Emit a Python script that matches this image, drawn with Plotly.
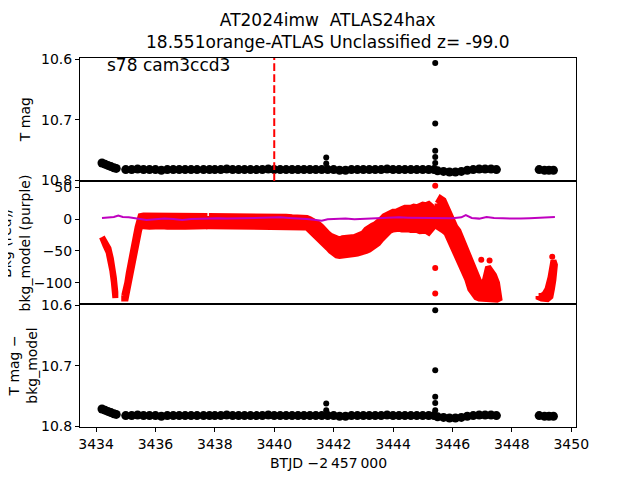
import numpy as np
import plotly.graph_objects as go
from plotly.subplots import make_subplots

# --- T mag band (top panel, also reused for T mag - bkg_model) ---
mag_t = [3434.20, 3434.30, 3434.40, 3434.50, 3434.60, 3434.68,
         3435.00, 3435.20, 3435.40, 3435.60, 3435.80, 3436.00, 3436.20, 3436.40,
         3436.60, 3436.80, 3437.00, 3437.20, 3437.40, 3437.62,
         3437.82, 3438.00, 3438.20, 3438.40, 3438.60, 3438.80, 3439.00, 3439.20,
         3439.40, 3439.60, 3439.80, 3440.00, 3440.20, 3440.40, 3440.60, 3440.80,
         3441.00, 3441.20, 3441.40, 3441.60, 3441.80, 3442.00, 3442.20, 3442.40,
         3442.60, 3442.80, 3443.00, 3443.20, 3443.40, 3443.60, 3443.80, 3444.00,
         3444.20, 3444.40, 3444.60, 3444.80, 3445.00, 3445.20, 3445.38,
         3445.50, 3445.70, 3445.90, 3446.10, 3446.30, 3446.50, 3446.70, 3446.90,
         3447.10, 3447.30, 3447.48,
         3448.92, 3449.10, 3449.25, 3449.40]
mag_v = [10.771, 10.773, 10.775, 10.777, 10.779, 10.780,
         10.782, 10.782, 10.781, 10.782, 10.782, 10.782, 10.783, 10.782,
         10.782, 10.782, 10.782, 10.782, 10.782, 10.782,
         10.782, 10.782, 10.782, 10.781, 10.782, 10.782, 10.782, 10.782,
         10.782, 10.782, 10.781, 10.782, 10.782, 10.782, 10.782, 10.782,
         10.782, 10.782, 10.782, 10.782, 10.782, 10.782, 10.783, 10.783,
         10.782, 10.782, 10.782, 10.782, 10.782, 10.782, 10.781, 10.782,
         10.782, 10.782, 10.782, 10.782, 10.782, 10.782, 10.782,
         10.784, 10.785, 10.786, 10.786, 10.785, 10.783, 10.782, 10.781,
         10.781, 10.781, 10.782,
         10.782, 10.783, 10.783, 10.783]

# isolated bright points
mag_out_t = [3441.75, 3441.75, 3445.42, 3445.42, 3445.42, 3445.42, 3445.42]
mag_out_v = [10.762, 10.772, 10.606, 10.706, 10.751, 10.761, 10.771]
diff_out_v = [10.762, 10.773, 10.608, 10.707, 10.751, 10.761, 10.773]

# --- background (red), upper/lower envelope of the point cloud ---
red_t = [3434.20, 3434.32, 3434.42, 3434.50, 3434.55, 3434.60, 3434.65,
         3434.95, 3435.00, 3435.05, 3435.10, 3435.15, 3435.20, 3435.25, 3435.30,
         3435.35, 3435.40, 3435.45, 3435.50,
         3435.60, 3435.80, 3436.00, 3436.20, 3436.40, 3436.60, 3436.80, 3437.00,
         3437.20, 3437.40, 3437.65,
         3437.80, 3438.00, 3438.20, 3438.40, 3438.60, 3438.80, 3439.00, 3439.20,
         3439.40, 3439.60, 3439.80, 3440.00, 3440.20, 3440.40, 3440.60, 3440.80,
         3441.00,
         3441.10, 3441.20, 3441.30, 3441.40, 3441.50, 3441.60, 3441.70, 3441.80,
         3441.90, 3442.00, 3442.10, 3442.20, 3442.30, 3442.40, 3442.50, 3442.60,
         3442.70, 3442.80, 3442.90, 3443.00, 3443.10, 3443.20, 3443.30, 3443.40,
         3443.50, 3443.60, 3443.70, 3443.80, 3443.90, 3444.00, 3444.10,
         3444.20, 3444.30, 3444.40, 3444.50, 3444.60, 3444.70, 3444.80, 3444.90,
         3445.00, 3445.10, 3445.20, 3445.30, 3445.38,
         3445.50, 3445.60, 3445.70, 3445.80, 3445.90, 3446.00, 3446.10, 3446.20,
         3446.30, 3446.40, 3446.50, 3446.60, 3446.70, 3446.80, 3446.90, 3447.00,
         3447.10, 3447.20, 3447.30, 3447.40, 3447.50, 3447.58,
         3448.90, 3449.00, 3449.10, 3449.20, 3449.30, 3449.35, 3449.40, 3449.45]
red_hi = [-28, -37, -46, -62, -75, -92, -115,
          -120, -112, -100, -85, -70, -58, -46, -35, -24, -12, 0, 5,
          6, 6, 7, 6, 5, 6, 5, 5, 5, 5, 5,
          5, 5, 5, 5, 6, 6, 5, 4, 5, 5, 6, 4, 4, 4, 3, 3, 3,
          2, 0, -2, -4, -8, -12, -18, -22, -26, -28, -30, -32, -30, -30, -28, -30,
          -28, -26, -25, -22, -16, -12, -10, -8, -5, 0, 5, 8, 10, 12, 12,
          15, 16, 18, 17, 18, 20, 19, 21, 23, 22, 24, 20, 15,
          25, 33, 30, 20, 8, -5, -12, -18, -30, -40, -50, -62, -75, -88, -98, -105,
          -95, -75, -80, -88, -100, -118,
          -121, -121, -118, -110, -92, -72, -65, -72]
red_lo = [-32, -42, -52, -70, -82, -100, -124,
          -125, -125, -118, -105, -88, -75, -62, -50, -40, -30, -18, -10,
          -11, -12, -12, -11, -12, -13, -12, -12, -11, -12, -11,
          -11, -12, -13, -11, -11, -11, -12, -11, -11, -12, -11, -11, -12, -12, -12, -13, -13,
          -13, -16, -20, -25, -30, -35, -40, -45, -50, -54, -57, -58, -58, -58, -57, -56,
          -55, -54, -53, -52, -50, -48, -45, -42, -38, -32, -28, -22, -18, -16, -15,
          -15, -16, -17, -16, -17, -18, -17, -19, -19, -18, -21, -16, -11,
          -12, -15, -18, -22, -32, -45, -55, -65, -72, -85, -95, -110, -118, -123, -125, -126,
          -127, -127, -127, -127, -127, -125,
          -123, -125, -126, -126, -122, -110, -95, -85]
# gaps in the background series
red_gaps = [3434.8, 3437.72, 3445.44, 3448.2]

red_out_t = [3445.42, 3445.42, 3445.42, 3446.97, 3447.25, 3449.36]
red_out_v = [53, -77, -117, -64, -65, -59]

# --- bkg_model (purple) ---
model_t = [3434.20, 3434.45, 3434.60, 3434.75, 3434.90, 3435.10, 3435.30, 3435.50,
           3435.70, 3436.00, 3436.30, 3436.60, 3436.90, 3437.20, 3437.50, 3437.80,
           3438.10, 3438.40, 3438.70, 3439.00, 3439.30, 3439.60, 3439.90, 3440.20,
           3440.50, 3440.80, 3441.10, 3441.40, 3441.60, 3441.80, 3442.10, 3442.40,
           3442.70, 3443.00, 3443.30, 3443.60, 3443.90, 3444.20, 3444.50, 3444.80,
           3445.10, 3445.40, 3445.70, 3446.00, 3446.30, 3446.45, 3446.65, 3446.90,
           3447.15, 3447.40, 3447.70, 3448.00, 3448.30, 3448.60, 3448.90, 3449.20,
           3449.45]
model_v = [2.0, 2.5, 3.5, 6.0, 3.5, 3.0, 2.0, 1.0,
           -1.0, 0.0, 1.0, 0.5, -1.0, 0.5, 1.0, 1.0,
           1.5, 1.0, 1.5, 2.0, 2.0, 2.5, 3.5, 3.0,
           2.0, 1.5, 0.5, -1.0, -2.5, 0.0, 1.0, 1.0,
           0.0, 0.5, 1.5, 2.5, 3.0, 3.0, 2.5, 2.5,
           2.0, 2.0, 1.5, 1.5, 3.0, 6.5, 2.0, 1.0,
           3.5, 2.0, 1.5, 1.0, 1.0, 1.5, 2.0, 3.0,
           3.5]

disc_t = 3440.0

FONT = "DejaVu Sans"
RED = "#ff0000"
PURPLE = "rgb(191,0,191)"

fig = make_subplots(rows=3, cols=1, shared_xaxes=True, vertical_spacing=0)

# top: T mag
fig.add_trace(go.Scatter(x=mag_t, y=mag_v, mode="markers",
                         marker=dict(color="black", size=9), showlegend=False), row=1, col=1)
fig.add_trace(go.Scatter(x=mag_out_t, y=mag_out_v, mode="markers",
                         marker=dict(color="black", size=6), showlegend=False), row=1, col=1)

# middle: background envelope as filled polygons, one per continuous stretch
rt = np.array(red_t)
rh = np.array(red_hi)
rl = np.array(red_lo)
edges = [-np.inf] + red_gaps + [np.inf]
for a, b in zip(edges[:-1], edges[1:]):
    m = (rt > a) & (rt < b)
    xs = list(rt[m]) + list(rt[m][::-1]) + [rt[m][0]]
    ys = list(rh[m]) + list(rl[m][::-1]) + [rh[m][0]]
    fig.add_trace(go.Scatter(x=xs, y=ys, mode="lines", fill="toself", fillcolor=RED,
                             line=dict(color=RED, width=6), showlegend=False), row=2, col=1)
fig.add_trace(go.Scatter(x=red_out_t, y=red_out_v, mode="markers",
                         marker=dict(color=RED, size=6), showlegend=False), row=2, col=1)
fig.add_trace(go.Scatter(x=model_t, y=model_v, mode="lines",
                         line=dict(color=PURPLE, width=2), showlegend=False), row=2, col=1)

# bottom: T mag - bkg_model
fig.add_trace(go.Scatter(x=mag_t, y=mag_v, mode="markers",
                         marker=dict(color="black", size=9), showlegend=False), row=3, col=1)
fig.add_trace(go.Scatter(x=mag_out_t, y=diff_out_v, mode="markers",
                         marker=dict(color="black", size=6), showlegend=False), row=3, col=1)

# discovery date marker
fig.add_shape(type="line", x0=disc_t, x1=disc_t, y0=0, y1=1, xref="x", yref="y domain",
              line=dict(color=RED, width=2, dash="7.7px,3.3px"))

axis_style = dict(showline=True, mirror=True, linecolor="black", linewidth=1,
                  showgrid=False, zeroline=False, ticks="outside", ticklen=4,
                  tickwidth=1, tickcolor="black",
                  tickfont=dict(family=FONT, size=14, color="black"))

xr = [3433.46, 3450.16]
fig.update_xaxes(range=xr, **axis_style)
fig.update_xaxes(showticklabels=False, ticks="", row=1, col=1)
fig.update_xaxes(showticklabels=False, ticks="", row=2, col=1)
fig.update_xaxes(tickvals=list(range(3434, 3451, 2)), row=3, col=1)

fig.update_yaxes(**axis_style)
fig.update_yaxes(range=[10.8008, 10.5977], tickvals=[10.6, 10.7, 10.8], row=1, col=1)
fig.update_yaxes(range=[-133.6, 60.3], tickvals=[50, 0, -50, -100], row=2, col=1)
fig.update_yaxes(range=[10.8008, 10.5977], tickvals=[10.6, 10.7, 10.8], row=3, col=1)

txt = dict(family=FONT, size=14, color="black")
annotations = [
    dict(text="AT2024imw  ATLAS24hax<br>18.551orange-ATLAS Unclassified z= -99.0",
         x=0.5, y=1.072, xref="paper", yref="paper", xanchor="center", yanchor="middle",
         showarrow=False, font=dict(family=FONT, size=17, color="black")),
    dict(text="s78 cam3ccd3", x=0.051, y=0.94, xref="x domain", yref="y domain",
         xanchor="left", yanchor="middle", showarrow=False,
         font=dict(family=FONT, size=17, color="black")),
    dict(text="T mag", x=-0.1095, y=5 / 6, xref="paper", yref="paper", textangle=-90,
         xanchor="center", yanchor="middle", showarrow=False, font=txt),
    dict(text="Bkg (red)/<br>bkg_model (purple)", x=-0.1313, y=0.5, xref="paper", yref="paper",
         textangle=-90, xanchor="center", yanchor="middle", showarrow=False, font=txt),
    dict(text="T mag \u2212<br>bkg_model", x=-0.1165, y=1 / 6, xref="paper", yref="paper",
         textangle=-90, xanchor="center", yanchor="middle", showarrow=False, font=txt),
    dict(text="BTJD \u22122\u2009457\u2009000", x=0.5, y=-0.097, xref="paper", yref="paper",
         xanchor="center", yanchor="middle", showarrow=False, font=txt),
]

# page body has an 8px margin, so the figure is offset by 8px; size accordingly
fig.update_layout(
    width=624, height=464,
    margin=dict(l=72, r=56, t=49.6, b=44.8),
    plot_bgcolor="white", paper_bgcolor="white",
    annotations=annotations,
    showlegend=False,
)

fig.write_html("out.html")
